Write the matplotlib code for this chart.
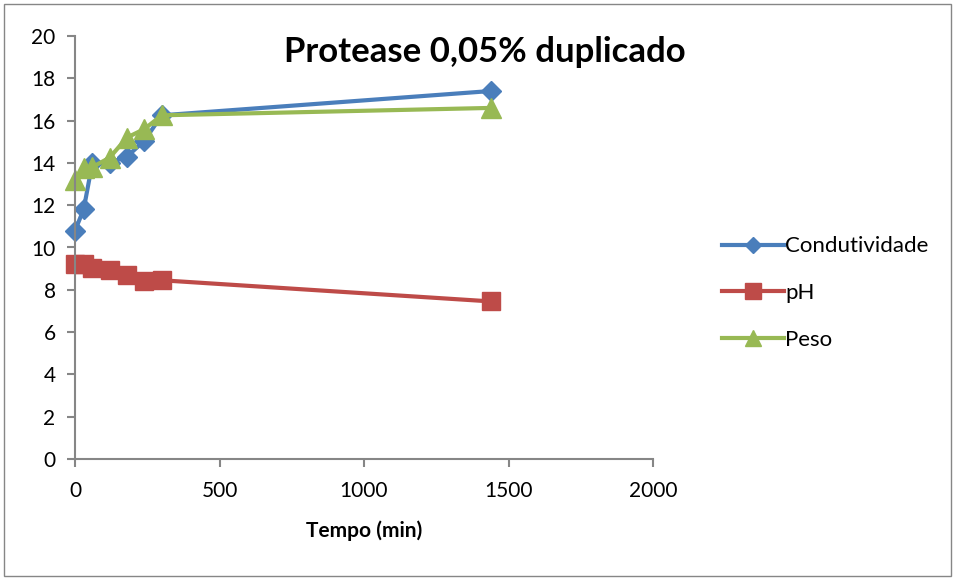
import matplotlib.pyplot as plt
from matplotlib.patches import Rectangle

plt.rcParams['font.family'] = ['Lato', 'DejaVu Sans']

# Dados do ensaio
tempo = [0, 30, 60, 120, 180, 240, 300, 1440]
condutividade = [10.8, 11.8, 14.0, 14.0, 14.3, 15.05, 16.25, 17.4]
ph = [9.2, 9.2, 9.05, 8.95, 8.7, 8.4, 8.45, 7.45]
peso = [13.2, 13.75, 13.8, 14.25, 15.2, 15.6, 16.25, 16.6]

fig = plt.figure(figsize=(9.55, 5.79), dpi=100)
ax = fig.add_axes([75 / 955, 1 - 459 / 579, 578 / 955, 423 / 579])

ax.plot(tempo, condutividade, color='#4A7EBB', lw=3, marker='D', ms=10, label='Condutividade')
ax.plot(tempo, ph, color='#BE4B48', lw=3, marker='s', ms=13, label='pH')
ax.plot(tempo, peso, color='#98B954', lw=3, marker='^', ms=14, label='Peso')

ax.set_xlim(0, 2000)
ax.set_ylim(0, 20)
ax.set_xticks(range(0, 2001, 500))
ax.set_yticks(range(0, 21, 2))
for s in ['top', 'right']:
    ax.spines[s].set_visible(False)
for s in ['left', 'bottom']:
    ax.spines[s].set_color('#868686')
    ax.spines[s].set_linewidth(1.5)
ax.tick_params(colors='#868686', labelcolor='black', labelsize=15, length=6, width=1.5)
ax.tick_params(axis='x', pad=10)
ax.tick_params(axis='y', pad=8)
for ln in ax.lines:
    ln.set_clip_on(False)

ax.set_xlabel('Tempo (min)', fontsize=15, fontweight='bold', labelpad=14)
fig.text(485 / 955, 1 - 52 / 579, 'Protease 0,05% duplicado', fontsize=25, fontweight='bold',
         ha='center', va='center')

ax.legend(loc='center left', bbox_to_anchor=(702 / 955, 1 - 293 / 579), bbox_transform=fig.transFigure,
          frameon=False, fontsize=16, handlelength=2.8, handletextpad=0.05, labelspacing=1.2,
          markerscale=0.85)

fig.patches.append(Rectangle((4 / 955, 3 / 579), 947 / 955, 572 / 579, transform=fig.transFigure,
                             fill=False, edgecolor='#868686', lw=1))

fig.savefig('out.png')
